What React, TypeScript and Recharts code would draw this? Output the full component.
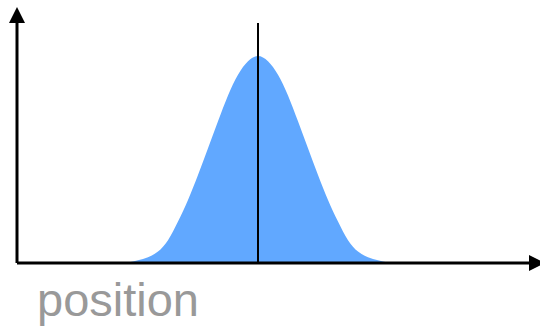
import { ComposedChart, Area, XAxis, YAxis, ReferenceLine } from 'recharts'

// horizontal position (1 unit ≈ 10px), centred on the peak
const positions = [-14, -13, -12, -11, -10, -9, -8, -7, -6, -5, -4, -3, -2, -1, 0, 1, 2, 3, 4, 5, 6, 7, 8, 9, 10, 11, 12, 13, 14]
// curve height relative to the peak
const heights = [0, 0.003, 0.013, 0.028, 0.055, 0.11, 0.2, 0.305, 0.425, 0.555, 0.685, 0.81, 0.91, 0.975, 1, 0.975, 0.91, 0.81, 0.685, 0.555, 0.425, 0.305, 0.2, 0.11, 0.055, 0.028, 0.013, 0.003, 0]

const xDomain = [-24.1, 27.1]
const yDomain = [0, 1.16]
const axisLabel = 'position'

const data = positions.map((x, i) => ({ x, y: heights[i] }))

function PositionLabel() {
  return (
    <text x={37} y={316} fill="#999" fontSize={47} fontFamily="'Liberation Sans', Arial, sans-serif">
      {axisLabel}
    </text>
  )
}

export default function App() {
  return (
    <div style={{ position: 'absolute', left: 0, top: 0 }}>
      <ComposedChart width={540} height={328} data={data} margin={{ top: 23, right: 11, bottom: 64, left: 16 }}>
        <defs>
          <marker id="arrowHead" markerWidth={16} markerHeight={16} refX={0} refY={8}
            orient="auto-start-reverse" markerUnits="userSpaceOnUse">
            <path d="M0,0 L16,8 L0,16 z" fill="#000" />
          </marker>
        </defs>
        <Area
          dataKey="y" type="natural" fill="#61a8ff" fillOpacity={1}
          stroke="none" isAnimationActive={false} dot={false} activeDot={false}
        />
        <ReferenceLine x={0} stroke="#000" strokeWidth={2} />
        <XAxis
          type="number" dataKey="x" domain={xDomain} height={1} tick={false} tickLine={false}
          axisLine={{ stroke: '#000', strokeWidth: 3, markerEnd: 'url(#arrowHead)' }}
          allowDataOverflow label={<PositionLabel />}
        />
        <YAxis
          type="number" domain={yDomain} width={1} tick={false} tickLine={false}
          axisLine={{ stroke: '#000', strokeWidth: 3, markerStart: 'url(#arrowHead)' }}
          allowDataOverflow
        />
      </ComposedChart>
    </div>
  )
}
